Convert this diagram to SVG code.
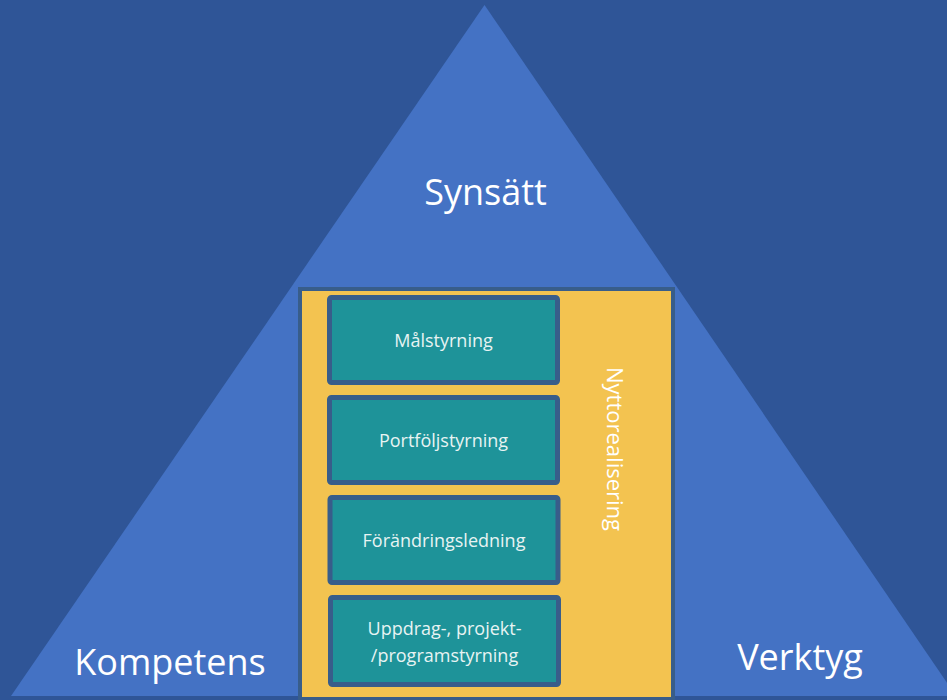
<svg xmlns="http://www.w3.org/2000/svg" width="947" height="700" viewBox="0 0 947 700">
  <style>
    .big { font-family: "Open Sans", "Noto Sans", "DejaVu Sans", sans-serif; font-size: 36px; fill: #ffffff; text-anchor: middle; }
    .box { fill: #1E9399; stroke: #385D8A; stroke-width: 5; }
    .lbl { font-family: "Open Sans", "Noto Sans", "DejaVu Sans", sans-serif; font-size: 18px; fill: #E8F3F3; text-anchor: middle; }
    .vert { font-family: "Open Sans", "Noto Sans", "DejaVu Sans", sans-serif; font-size: 22px; fill: #ffffff; text-anchor: middle; }
  </style>
  <rect x="0" y="0" width="947" height="700" fill="#2F5597"/>
  <g id="triangle">
    <polygon points="484.5,5 11,696 956,696" fill="#4472C4"/>
    <text class="big" x="485.5" y="205">Synsätt</text>
    <text class="big" x="170" y="675">Kompetens</text>
    <text class="big" x="800" y="670">Verktyg</text>
  </g>
  <g id="nyttorealisering">
    <rect x="300" y="289" width="373" height="410" fill="#F3C350" stroke="#385D8A" stroke-width="4"/>
    <text class="vert" transform="translate(607,449) rotate(90)" x="0" y="0">Nyttorealisering</text>
  </g>
  <g id="malstyrning">
    <rect class="box" x="329.5" y="297.5" width="228" height="85" rx="2"/>
    <text class="lbl" x="443.5" y="347">Målstyrning</text>
  </g>
  <g id="portfoljstyrning">
    <rect class="box" x="329.5" y="397.5" width="228" height="85" rx="2"/>
    <text class="lbl" x="443.5" y="447">Portföljstyrning</text>
  </g>
  <g id="forandringsledning">
    <rect class="box" x="330" y="497.5" width="228" height="85" rx="2"/>
    <text class="lbl" x="444" y="547">Förändringsledning</text>
  </g>
  <g id="uppdragstyrning">
    <rect class="box" x="330.5" y="597.5" width="228" height="87" rx="2"/>
    <text class="lbl" x="444.5" y="635">Uppdrag-, projekt-</text>
    <text class="lbl" x="444.5" y="662">/programstyrning</text>
  </g>
  <g id="connectors"/>
</svg>
